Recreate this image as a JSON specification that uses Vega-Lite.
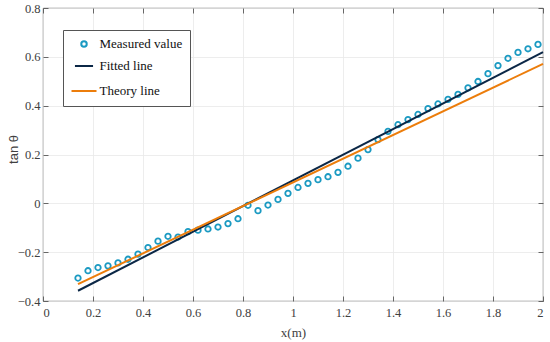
{
  "$schema": "https://vega.github.io/schema/vega-lite/v6.json",
  "width": 500,
  "height": 293,
  "autosize": {"type": "none"},
  "padding": {"left": 43, "top": 8, "right": 7, "bottom": 41},
  "background": "white",
  "config": {
    "view": {"stroke": "#444", "strokeWidth": 0.8},
    "font": "Liberation Serif",
    "axis": {
      "labelFont": "Liberation Serif",
      "labelFontSize": 12.5,
      "labelColor": "#404040",
      "titleColor": "#404040",
      "tickColor": "#444",
      "domain": false,
      "gridColor": "#e8e8e8",
      "gridWidth": 0.8,
      "tickSize": -5,
      "tickWidth": 0.8
    }
  },
  "datasets": {
    "pts": [
      {"series": "Measured value", "x": 0.14, "y": -0.306},
      {"series": "Measured value", "x": 0.18, "y": -0.276},
      {"series": "Measured value", "x": 0.22, "y": -0.263},
      {"series": "Measured value", "x": 0.26, "y": -0.256},
      {"series": "Measured value", "x": 0.30, "y": -0.244},
      {"series": "Measured value", "x": 0.34, "y": -0.229},
      {"series": "Measured value", "x": 0.38, "y": -0.208},
      {"series": "Measured value", "x": 0.42, "y": -0.181},
      {"series": "Measured value", "x": 0.46, "y": -0.155},
      {"series": "Measured value", "x": 0.50, "y": -0.135},
      {"series": "Measured value", "x": 0.54, "y": -0.138},
      {"series": "Measured value", "x": 0.58, "y": -0.116},
      {"series": "Measured value", "x": 0.62, "y": -0.110},
      {"series": "Measured value", "x": 0.66, "y": -0.105},
      {"series": "Measured value", "x": 0.70, "y": -0.097},
      {"series": "Measured value", "x": 0.74, "y": -0.083},
      {"series": "Measured value", "x": 0.78, "y": -0.063},
      {"series": "Measured value", "x": 0.82, "y": -0.008},
      {"series": "Measured value", "x": 0.86, "y": -0.030},
      {"series": "Measured value", "x": 0.90, "y": -0.007},
      {"series": "Measured value", "x": 0.94, "y": 0.016},
      {"series": "Measured value", "x": 0.98, "y": 0.041},
      {"series": "Measured value", "x": 1.02, "y": 0.065},
      {"series": "Measured value", "x": 1.06, "y": 0.082},
      {"series": "Measured value", "x": 1.10, "y": 0.097},
      {"series": "Measured value", "x": 1.14, "y": 0.109},
      {"series": "Measured value", "x": 1.18, "y": 0.127},
      {"series": "Measured value", "x": 1.22, "y": 0.152},
      {"series": "Measured value", "x": 1.26, "y": 0.185},
      {"series": "Measured value", "x": 1.30, "y": 0.220},
      {"series": "Measured value", "x": 1.34, "y": 0.261},
      {"series": "Measured value", "x": 1.38, "y": 0.295},
      {"series": "Measured value", "x": 1.42, "y": 0.322},
      {"series": "Measured value", "x": 1.46, "y": 0.343},
      {"series": "Measured value", "x": 1.50, "y": 0.364},
      {"series": "Measured value", "x": 1.54, "y": 0.388},
      {"series": "Measured value", "x": 1.58, "y": 0.407},
      {"series": "Measured value", "x": 1.62, "y": 0.426},
      {"series": "Measured value", "x": 1.66, "y": 0.446},
      {"series": "Measured value", "x": 1.70, "y": 0.473},
      {"series": "Measured value", "x": 1.74, "y": 0.499},
      {"series": "Measured value", "x": 1.78, "y": 0.531},
      {"series": "Measured value", "x": 1.82, "y": 0.564},
      {"series": "Measured value", "x": 1.86, "y": 0.594},
      {"series": "Measured value", "x": 1.90, "y": 0.618},
      {"series": "Measured value", "x": 1.94, "y": 0.633},
      {"series": "Measured value", "x": 1.98, "y": 0.651}
    ],
    "lines": [
      {"series": "Fitted line", "x": 0.14, "y": -0.358},
      {"series": "Fitted line", "x": 2.0, "y": 0.619},
      {"series": "Theory line", "x": 0.14, "y": -0.331},
      {"series": "Theory line", "x": 2.0, "y": 0.571}
    ]
  },
  "layer": [
    {
      "data": {"name": "pts"},
      "mark": {"type": "point", "filled": false, "strokeWidth": 1.8, "opacity": 1},
      "encoding": {
        "x": {
          "field": "x", "type": "quantitative",
          "scale": {"domain": [0, 2], "nice": false, "zero": false},
          "axis": {"orient": "bottom", "values": [0, 0.2, 0.4, 0.6, 0.8, 1, 1.2, 1.4, 1.6, 1.8, 2], "format": "~g", "title": "x(m)", "titleFont": "Liberation Serif", "titleFontSize": 13, "titleFontWeight": "normal", "titlePadding": 8, "labelPadding": 10}
        },
        "y": {
          "field": "y", "type": "quantitative",
          "scale": {"domain": [-0.4, 0.8], "nice": false, "zero": false},
          "axis": {"orient": "left", "values": [-0.4, -0.2, 0, 0.2, 0.4, 0.6, 0.8], "format": "~g", "title": "tan θ", "titleFont": "Liberation Sans", "titleFontSize": 13, "titleFontWeight": "normal", "titlePadding": -3, "titleY": 141, "labelPadding": 8}
        },
        "color": {
          "field": "series", "type": "nominal",
          "scale": {"domain": ["Measured value", "Fitted line", "Theory line"], "range": ["#1b9ac2", "#0b2746", "#ec7d0b"]},
          "legend": {
            "title": null,
            "orient": "none",
            "legendX": 20,
            "legendY": 22,
            "direction": "vertical",
            "fillColor": "white",
            "strokeColor": "#555",
            "padding": 7.5,
            "rowPadding": 4,
            "labelFont": "Liberation Serif",
            "labelFontSize": 13,
            "labelColor": "#111",
            "labelOffset": 2,
            "symbolStrokeWidth": 2
          }
        },
        "shape": {
          "field": "series", "type": "nominal",
          "scale": {"domain": ["Measured value", "Fitted line", "Theory line"], "range": ["circle", "stroke", "stroke"]},
          "legend": {"title": null}
        },
        "size": {
          "field": "series", "type": "nominal",
          "scale": {"domain": ["Measured value", "Fitted line", "Theory line"], "range": [30, 625, 625]},
          "legend": {"title": null}
        }
      }
    },
    {
      "data": {"name": "lines"},
      "mark": {"type": "line", "strokeWidth": 2},
      "encoding": {
        "x": {
          "field": "x", "type": "quantitative",
          "axis": {"orient": "top", "values": [0, 0.2, 0.4, 0.6, 0.8, 1, 1.2, 1.4, 1.6, 1.8, 2], "labels": false, "grid": false, "title": null}
        },
        "y": {
          "field": "y", "type": "quantitative",
          "axis": {"orient": "right", "values": [-0.4, -0.2, 0, 0.2, 0.4, 0.6, 0.8], "labels": false, "grid": false, "title": null}
        },
        "color": {"field": "series", "type": "nominal"},
        "detail": {"field": "series"}
      }
    }
  ],
  "resolve": {"axis": {"x": "independent", "y": "independent"}}
}
